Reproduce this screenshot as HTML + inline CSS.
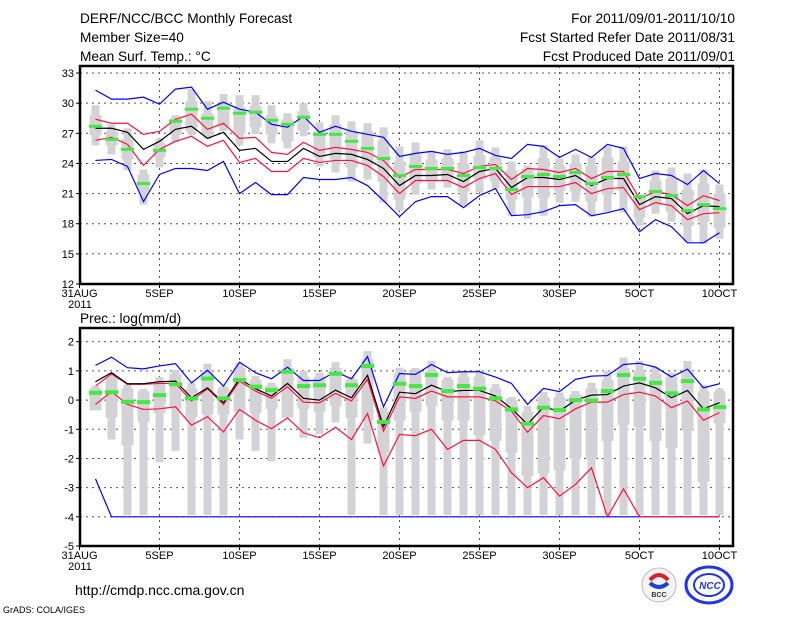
<!DOCTYPE html>
<html><head><meta charset="utf-8"><style>
html,body{margin:0;padding:0;background:#fff}
svg{display:block}
text{font-family:"Liberation Sans",sans-serif}
</style></head><body>
<svg id="chart" width="800" height="618" viewBox="0 0 800 618" xmlns="http://www.w3.org/2000/svg">
<g font-size="13.7" fill="#000">
<text x="80" y="23">DERF/NCC/BCC Monthly Forecast</text>
<text x="80" y="42">Member Size=40</text>
<text x="80" y="61">Mean Surf. Temp.: °C</text>
<text x="735" y="23" text-anchor="end">For 2011/09/01-2011/10/10</text>
<text x="735" y="42" text-anchor="end">Fcst Started Refer Date 2011/08/31</text>
<text x="735" y="61" text-anchor="end">Fcst Produced Date 2011/09/01</text>
<text x="80" y="323">Prec.: log(mm/d)</text>
<text x="75" y="595" font-size="14">http://cmdp.ncc.cma.gov.cn</text>
<text x="3" y="613" font-size="9">GrADS: COLA/IGES</text>
</g>
<g>
<circle cx="659" cy="585" r="17" fill="#f4f4f4" stroke="#bbb"/>
<path d="M650 580 q9 -10 18 0" stroke="#e02020" stroke-width="4" fill="none"/>
<path d="M650 583 q9 8 18 0" stroke="#2040d0" stroke-width="4" fill="none"/>
<text x="659" y="597" font-size="7" text-anchor="middle" font-weight="bold" fill="#333">BCC</text>
</g>
<g>
<ellipse cx="709" cy="585" rx="23" ry="18" fill="none" stroke="#2233ee" stroke-width="3"/>
<ellipse cx="709" cy="585" rx="15" ry="11" fill="none" stroke="#2233ee" stroke-width="2"/>
<text x="710" y="589" font-size="10" text-anchor="middle" font-weight="bold" font-style="italic" fill="#2233ee">NCC</text>
</g>
</svg>
<script>
const days = [1,2,3,4,5,6,7,8,9,10,11,12,13,14,15,16,17,18,19,20,21,22,23,24,25,26,27,28,29,30,31,32,33,34,35,36,37,38,39,40];
const tickDays = [0,5,10,15,20,25,30,35,40];
const tickLabels = ["31AUG","5SEP","10SEP","15SEP","20SEP","25SEP","30SEP","5OCT","10OCT"];
const tTicks = [12,15,18,21,24,27,30,33];
const pTicks = [-5,-4,-3,-2,-1,0,1,2];

const tBlueHi = [31.3,30.4,30.4,30.6,29.9,31.4,31.6,29.4,30.1,29.4,29.1,27.9,27.6,28.7,27.1,27.7,27.2,26.9,26.6,24.7,25.0,25.2,24.9,25.1,25.5,24.8,24.5,25.9,25.7,24.6,25.4,24.6,25.9,25.5,22.5,23.0,22.8,21.9,23.3,22.0];
const tBlueLo = [24.3,24.4,23.7,20.2,22.9,23.5,23.5,23.3,24.2,21.0,22.1,20.9,20.9,22.6,22.4,22.4,22.6,21.8,20.3,18.7,20.2,20.7,20.7,19.6,20.8,21.5,18.8,18.9,19.2,19.8,19.9,18.8,19.1,19.5,17.2,18.4,17.7,16.1,16.1,17.1];
const tRedHi = [28.4,28.0,28.0,26.9,27.2,28.4,28.9,27.4,28.0,26.5,26.6,25.1,24.9,26.1,25.3,25.6,25.4,25.1,24.3,22.6,23.4,23.4,23.4,23.0,23.7,23.9,22.4,23.5,23.4,23.1,23.5,22.5,23.2,23.2,20.5,21.2,20.9,19.8,20.8,20.3];
const tMean = [27.5,27.5,27.1,25.4,26.2,27.4,27.7,26.5,27.1,25.3,25.5,24.2,24.2,25.5,24.7,25.0,24.9,24.4,23.5,21.8,22.8,22.8,22.9,22.2,23.2,23.5,21.6,22.6,22.6,22.4,22.8,21.8,22.5,22.5,19.9,20.7,20.5,19.0,19.8,19.7];
const tRedLo = [26.3,26.6,25.9,23.8,25.4,26.2,26.7,25.7,26.3,24.1,24.5,23.2,23.2,24.5,24.1,24.3,24.3,23.8,22.7,21.0,22.3,22.3,22.3,21.6,22.5,23.0,20.9,21.7,21.7,21.7,22.1,21.0,21.5,21.6,19.4,20.1,19.8,18.4,19.0,19.1];
const tObs = [27.7,26.4,25.4,22.0,25.3,28.2,29.4,28.5,29.5,29.0,29.1,28.3,27.9,28.6,26.9,26.9,26.2,25.5,24.5,22.8,23.7,23.5,23.5,22.8,23.6,23.5,21.4,22.7,22.9,22.7,23.1,22.0,22.6,22.9,20.7,21.2,20.8,19.3,19.9,19.5];
const tMax = [29.8,27.9,27.5,23.4,26.5,28.8,31.4,30.2,30.9,30.8,30.8,29.8,29.0,30.0,28.1,28.8,28.2,28.0,27.6,25.7,26.1,25.2,25.4,25.2,26.3,25.6,24.2,23.8,25.8,24.5,24.9,24.6,25.7,25.7,20.9,23.3,23.6,23.0,23.4,21.9];
const tQ3 = [28.8,27.2,26.4,22.9,26.0,28.5,30.2,29.0,29.8,29.6,29.7,28.8,28.4,29.2,27.2,27.9,27.3,27.2,26.3,24.2,24.9,24.4,24.5,24.0,24.8,24.6,23.3,23.5,24.5,23.8,24.0,23.8,24.6,24.2,20.6,22.3,22.5,21.4,22.0,21.0];
const tQ1 = [26.8,25.8,24.4,21.2,24.6,26.8,27.2,26.8,27.6,27.0,27.6,26.9,26.2,27.3,24.6,24.4,23.6,23.8,22.2,20.4,22.0,22.2,22.3,21.2,22.4,22.2,20.4,20.6,20.6,21.3,21.2,20.2,20.9,21.3,18.6,19.8,19.2,17.8,18.2,17.6];
const tMin = [25.8,24.9,23.3,19.9,23.6,26.1,26.8,26.4,27.2,25.8,26.9,26.0,25.5,26.7,23.7,23.1,22.2,22.4,20.1,19.3,20.9,21.4,21.6,19.8,21.1,21.5,18.8,18.5,18.8,20.1,20.2,18.7,19.2,19.1,17.8,19.0,18.2,16.2,16.0,16.5];

const pBlueHi = [1.19,1.47,1.11,1.07,1.17,1.25,0.59,1.02,0.48,1.30,0.94,0.73,1.13,0.67,0.67,0.97,0.73,1.49,-0.23,0.91,0.88,1.22,0.94,0.97,0.97,0.79,0.57,-0.15,0.40,0.29,0.71,0.82,0.84,1.22,1.26,1.13,0.79,1.06,0.42,0.56];
const pBlueLo = [-2.7,-4,-4,-4,-4,-4,-4,-4,-4,-4,-4,-4,-4,-4,-4,-4,-4,-4,-4,-4,-4,-4,-4,-4,-4,-4,-4,-4,-4,-4,-4,-4,-4,-4,-4,-4,-4,-4,-4,-4];
const pRedHi = [0.48,0.90,0.54,0.54,0.57,0.57,-0.03,0.39,-0.15,0.65,0.31,0.06,0.46,-0.07,-0.09,0.23,-0.03,0.71,-1.06,0.11,0.06,0.31,0.11,0.11,0.11,-0.03,-0.38,-1.10,-0.53,-0.64,-0.30,-0.07,-0.07,0.19,0.27,0.14,-0.26,-0.03,-0.69,-0.43];
const pMean = [0.63,0.94,0.56,0.56,0.63,0.65,0.08,0.42,-0.09,0.73,0.39,0.14,0.57,0.06,0.00,0.34,0.08,0.85,-0.91,0.27,0.22,0.51,0.29,0.33,0.33,0.14,-0.29,-0.83,-0.24,-0.38,0.00,0.17,0.19,0.48,0.59,0.42,0.08,0.33,-0.30,-0.09];
const pRedLo = [-0.15,0.29,-0.15,-0.32,-0.30,-0.23,-0.86,-0.57,-1.09,-0.32,-0.69,-0.98,-0.61,-1.12,-1.29,-0.93,-1.35,-0.46,-2.26,-1.18,-1.22,-1.00,-1.69,-1.38,-1.38,-1.69,-2.49,-3.00,-2.66,-3.29,-2.89,-2.32,-4.00,-3.04,-4.00,-4.00,-4.00,-4.00,-4.00,-4.00];
const pObs = [0.25,0.27,-0.06,-0.07,0.17,0.54,0.06,0.74,0.06,0.69,0.46,0.34,0.97,0.48,0.51,0.90,0.51,1.17,-0.75,0.56,0.48,0.86,0.31,0.48,0.39,0.06,-0.32,-0.81,-0.26,-0.34,0.00,-0.01,0.31,0.86,0.73,0.59,0.23,0.65,-0.32,-0.24];
const pMax = [0.48,0.94,0.54,0.39,0.79,1.03,0.59,1.25,0.48,1.28,0.83,0.60,1.40,1.00,0.94,1.30,0.80,1.68,-0.25,1.11,1.10,1.35,0.80,0.99,0.93,0.55,0.11,-0.20,0.28,0.26,0.31,0.60,1.00,1.46,1.34,1.13,0.93,1.34,0.51,0.40];
const pQ3 = [0.40,0.80,0.40,0.30,0.60,0.90,0.40,1.00,0.40,1.10,0.70,0.50,1.10,0.80,0.80,1.10,0.70,1.40,-0.40,0.90,1.00,1.00,0.70,0.80,0.80,0.40,0.00,-0.40,0.10,0.10,0.20,0.40,0.70,1.10,1.00,0.90,0.80,1.00,0.30,0.30];
const pQ1 = [-0.35,-0.60,-1.55,-0.75,-0.45,-0.30,-0.60,-0.50,-0.50,-0.40,-0.45,-0.30,-0.60,-0.30,-0.40,-0.20,-0.60,-0.70,-1.80,-0.70,-0.40,-0.20,-0.70,-0.70,-1.20,-1.40,-1.80,-2.60,-2.50,-2.40,-2.00,-2.00,-1.40,-0.85,-0.90,-1.40,-1.65,-1.05,-2.80,-0.80];
const pMin = [-0.35,-1.35,-3.94,-3.94,-2.13,-1.75,-3.94,-3.94,-3.94,-1.35,-1.75,-2.10,-0.57,-1.29,-1.17,-0.77,-3.94,-1.49,-3.94,-3.94,-3.94,-3.94,-3.94,-3.94,-3.94,-3.94,-3.94,-3.94,-3.94,-3.94,-3.94,-3.94,-3.94,-3.94,-3.94,-3.94,-3.94,-3.94,-3.94,-3.94];

const NS = "http://www.w3.org/2000/svg";
const svg = document.getElementById('chart');
const X0 = 80, X1 = 733;
function xs(d){ return 79.5 + 16*d; }
function mk(tag, attrs, parent){
  const e = document.createElementNS(NS, tag);
  for (const k in attrs) e.setAttribute(k, attrs[k]);
  (parent||svg).appendChild(e);
  return e;
}
function panel(name, top, bottom, vmin, vmax, yTicks, series, boxes, obs, greenH){
  const ys = v => bottom - (v - vmin) * (bottom - top) / (vmax - vmin);
  const g = mk('g', {});
  
  
  yTicks.forEach(v => {
    const y = ys(v);
    if (v > vmin && v < vmax) {
      const l = mk('line', {x1:X0, x2:X1, y1:y, y2:y, stroke:'#555', 'stroke-width':1, 'stroke-dasharray':'2,4'}, g);
      
      
    }
    const tk = mk('line', {x1:X0-4, x2:X0, y1:y, y2:y, stroke:'#000'}, g);
    
    
    const t = mk('text', {x:X0-6, y:y+4, 'font-size':11, 'text-anchor':'end'}, g);
    
    
    t.textContent = v;
  });
  tickDays.forEach((d, i) => {
    const x = xs(d);
    if (d > 0 && d < 40.9) {
      const l = mk('line', {x1:x, x2:x, y1:top, y2:bottom, stroke:'#555', 'stroke-width':1, 'stroke-dasharray':'2,4'}, g);
      
      
    }
    const tk = mk('line', {x1:x, x2:x, y1:bottom, y2:bottom+4, stroke:'#000'}, g);
    
    
    const t = mk('text', {x:x, y:bottom+13, 'font-size':11, 'text-anchor':'middle'}, g);
    
    
    t.textContent = tickLabels[i];
  });
  const yr = mk('text', {x:X0, y:bottom+24, 'font-size':11, 'text-anchor':'middle'}, g);
  
  
  yr.textContent = '2011';
  days.forEach((d, i) => {
    const x = xs(d);
    const w = mk('rect', {x:x-4, y:ys(boxes.max[i]), width:8, height:Math.max(1, ys(boxes.min[i]) - ys(boxes.max[i])), fill:'#d3d3d6'}, g);
    
    
    const q = mk('rect', {x:x-6, y:ys(boxes.q3[i]), width:12, height:Math.max(1, ys(boxes.q1[i]) - ys(boxes.q3[i])), fill:'#d3d3d6'}, g);
    
    
  });
  series.forEach(s => {
    const pts = days.map((d, i) => xs(d) + ',' + ys(s.vals[i])).join(' ');
    const p = mk('polyline', {points:pts, fill:'none', stroke:s.color, 'stroke-width':1.2}, g);
    
    
  });
  days.forEach((d, i) => {
    const r = mk('rect', {x:xs(d)-6.5, y:ys(obs[i]) - greenH/2, width:13, height:greenH, fill:'#44e844'}, g);
    
    
  });
  const f = mk('rect', {x:X0, y:top, width:X1-X0, height:bottom-top, fill:'none', stroke:'#000', 'stroke-width':2.5}, g);
  
  
}
panel('temperature-panel', 66, 284, 12, 33.7, tTicks, [
  {name:'temp-upper-bound-line', vals:tBlueHi, color:'#0000ff'},
  {name:'temp-lower-bound-line', vals:tBlueLo, color:'#0000ff'},
  {name:'temp-upper-std-line', vals:tRedHi, color:'#ff1040'},
  {name:'temp-lower-std-line', vals:tRedLo, color:'#ff1040'},
  {name:'temp-ensemble-mean-line', vals:tMean, color:'#000000'}
], {max:tMax, q3:tQ3, q1:tQ1, min:tMin}, tObs, 3);
panel('precip-panel', 328, 546, -5, 2.47, pTicks, [
  {name:'precip-upper-bound-line', vals:pBlueHi, color:'#0000ff'},
  {name:'precip-lower-bound-line', vals:pBlueLo, color:'#0000ff'},
  {name:'precip-upper-std-line', vals:pRedHi, color:'#ff1040'},
  {name:'precip-lower-std-line', vals:pRedLo, color:'#ff1040'},
  {name:'precip-ensemble-mean-line', vals:pMean, color:'#000000'}
], {max:pMax, q3:pQ3, q1:pQ1, min:pMin}, pObs, 4);
</script>
</body></html>
